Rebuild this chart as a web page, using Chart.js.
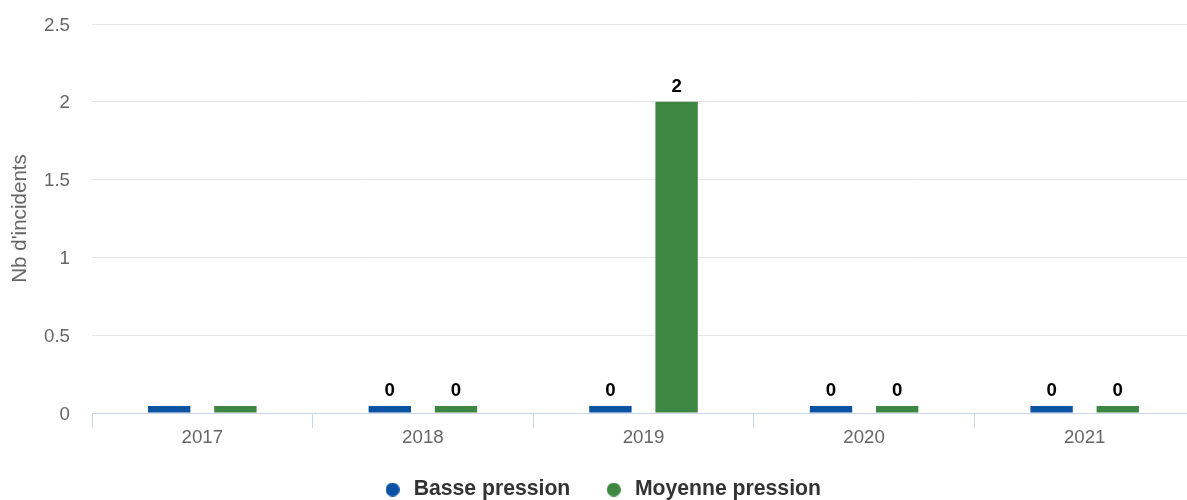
<!DOCTYPE html>
<html>
<head>
<meta charset="utf-8">
<script src="https://cdn.jsdelivr.net/npm/chart.js@4/dist/chart.umd.min.js"></script>
<style>
  html, body { margin: 0; padding: 0; background: #fff; overflow: hidden; }
  #wrap { width: 1195px; height: 500px; }
</style>
</head>
<body>
<div id="wrap"><canvas id="c" width="1195" height="500"></canvas></div>
<script>
const categories = ['2017', '2018', '2019', '2020', '2021'];
const basseValues = [0, 0, 0, 0, 0];
const moyenneValues = [0, 0, 2, 0, 0];
const showLabels = [false, true, true, true, true];
const yTicks = [0, 0.5, 1, 1.5, 2, 2.5];
const seriesNames = ['Basse pression', 'Moyenne pression'];
const seriesColors = ['#0b52a3', '#3d8743'];
const yTitle = "Nb d'incidents";

const FONT = "'Liberation Sans', Arial, Helvetica, sans-serif";

function dot(color) {
  const c = document.createElement('canvas');
  c.width = 14; c.height = 14;
  const g = c.getContext('2d');
  g.fillStyle = color;
  g.beginPath();
  g.arc(7, 7, 7, 0, Math.PI * 2);
  g.fill();
  return c;
}

const dataLabels = {
  id: 'dataLabels',
  afterDatasetsDraw(chart) {
    const ctx = chart.ctx;
    ctx.save();
    ctx.font = 'bold 18.7px ' + FONT;
    ctx.fillStyle = '#000';
    ctx.textAlign = 'center';
    ctx.textBaseline = 'alphabetic';
    chart.data.datasets.forEach((ds, di) => {
      const meta = chart.getDatasetMeta(di);
      meta.data.forEach((bar, i) => {
        if (!showLabels[i]) return;
        ctx.fillText(String(ds.data[i]), bar.x, bar.y - 10);
      });
    });
    ctx.restore();
  }
};

new Chart(document.getElementById('c'), {
  type: 'bar',
  data: {
    labels: categories,
    datasets: [
      { label: seriesNames[0], data: basseValues, backgroundColor: seriesColors[0], minBarLength: 7, pointStyle: dot(seriesColors[0]) },
      { label: seriesNames[1], data: moyenneValues, backgroundColor: seriesColors[1], minBarLength: 7, pointStyle: dot(seriesColors[1]) }
    ]
  },
  options: {
    responsive: false,
    animation: false,
    devicePixelRatio: 1,
    categoryPercentage: 0.6,
    barPercentage: 0.64,
    layout: { padding: { top: 24, left: 8, right: 0, bottom: 0 } },
    plugins: {
      tooltip: { enabled: false },
      legend: {
        position: 'bottom',
        maxHeight: 54,
        labels: {
          usePointStyle: true,
          boxHeight: 14,
          pointStyleWidth: 21,
          padding: 33,
          color: '#333',
          font: { family: FONT, size: 21.2, weight: 'bold' }
        }
      }
    },
    scales: {
      x: {
        afterFit(s) { s.height = 33; s.paddingLeft = 0; s.paddingRight = 0; },
        grid: {
          offset: true,
          drawOnChartArea: false,
          drawTicks: true,
          tickLength: 15,
          color: '#ccd6eb'
        },
        border: { display: true, color: '#ccd6eb', width: 1 },
        ticks: { color: '#666', padding: -1, font: { family: FONT, size: 18.7 } }
      },
      y: {
        min: 0,
        max: 2.5,
        afterBuildTicks(s) { s.ticks = yTicks.map(v => ({ value: v })); },
        afterFit(s) { s.width = 84; s.paddingTop = 0; s.paddingBottom = 0; },
        grid: { color: '#e6e6e6', drawTicks: false },
        border: { display: false },
        ticks: { color: '#666', padding: 22, labelOffset: 1.5, font: { family: FONT, size: 18.7 }, callback: v => String(v) },
        title: {
          display: true,
          text: yTitle,
          color: '#666',
          padding: 0,
          font: { family: FONT, size: 20.6 }
        }
      }
    }
  },
  plugins: [dataLabels]
});
</script>
</body>
</html>
